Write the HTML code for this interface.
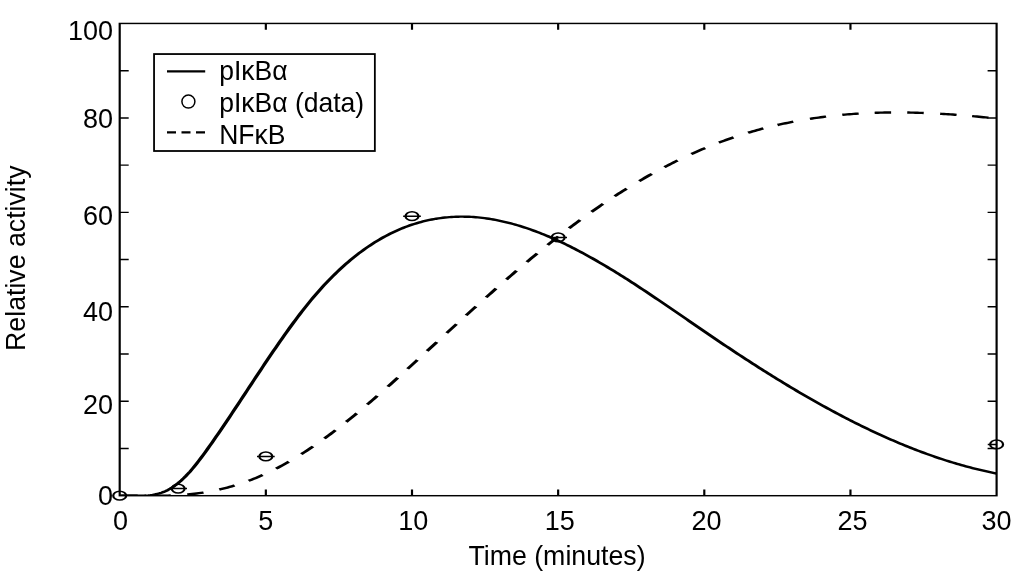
<!DOCTYPE html>
<html><head><meta charset="utf-8"><style>
html,body{margin:0;padding:0;background:#fff;}
body{width:1024px;height:586px;overflow:hidden;}
svg{display:block;will-change:transform;}
text{font-family:"Liberation Sans",sans-serif;fill:#000;}
</style></head><body>
<svg width="1024" height="586" viewBox="0 0 1024 586">
<rect x="0" y="0" width="1024" height="586" fill="#fff"/>
<g transform="translate(119.7,0) scale(1.5,1)" fill="none" stroke="#000">
<defs><clipPath id="ax"><rect x="0" y="23.45" width="584.60" height="472.25"/></clipPath></defs>
<g clip-path="url(#ax)">
<path d="M0.00,495.70 L1.47,495.70 L2.93,495.70 L4.40,495.70 L5.86,495.70 L7.33,495.70 L8.79,495.70 L10.26,495.70 L11.72,495.70 L13.19,495.70 L14.65,495.70 L16.12,495.70 L17.58,495.70 L19.05,495.70 L20.51,495.70 L21.98,495.70 L23.44,495.70 L24.91,495.70 L26.37,495.70 L27.84,495.70 L29.30,495.70 L30.77,495.70 L32.23,495.65 L33.70,495.57 L35.16,495.48 L36.63,495.37 L38.09,495.26 L39.56,495.12 L41.02,494.98 L42.49,494.81 L43.95,494.63 L45.42,494.44 L46.89,494.23 L48.35,494.00 L49.82,493.75 L51.28,493.48 L52.75,493.19 L54.21,492.88 L55.68,492.55 L57.14,492.21 L58.61,491.84 L60.07,491.44 L61.54,491.03 L63.00,490.59 L64.47,490.14 L65.93,489.65 L67.40,489.15 L68.86,488.63 L70.33,488.08 L71.79,487.51 L73.26,486.91 L74.72,486.30 L76.19,485.66 L77.65,484.99 L79.12,484.30 L80.58,483.59 L82.05,482.86 L83.51,482.10 L84.98,481.31 L86.44,480.50 L87.91,479.67 L89.37,478.81 L90.84,477.92 L92.31,477.01 L93.77,476.08 L95.24,475.12 L96.70,474.13 L98.17,473.12 L99.63,472.08 L101.10,471.02 L102.56,469.93 L104.03,468.82 L105.49,467.69 L106.96,466.53 L108.42,465.34 L109.89,464.13 L111.35,462.90 L112.82,461.65 L114.28,460.38 L115.75,459.08 L117.21,457.76 L118.68,456.42 L120.14,455.05 L121.61,453.67 L123.07,452.26 L124.54,450.84 L126.00,449.39 L127.47,447.92 L128.93,446.44 L130.40,444.93 L131.86,443.41 L133.33,441.86 L134.79,440.30 L136.26,438.72 L137.73,437.12 L139.19,435.51 L140.66,433.87 L142.12,432.22 L143.59,430.56 L145.05,428.88 L146.52,427.18 L147.98,425.47 L149.45,423.74 L150.91,422.00 L152.38,420.25 L153.84,418.48 L155.31,416.69 L156.77,414.90 L158.24,413.09 L159.70,411.27 L161.17,409.44 L162.63,407.60 L164.10,405.74 L165.56,403.88 L167.03,402.00 L168.49,400.11 L169.96,398.22 L171.42,396.31 L172.89,394.40 L174.35,392.48 L175.82,390.55 L177.28,388.61 L178.75,386.66 L180.22,384.71 L181.68,382.75 L183.15,380.79 L184.61,378.82 L186.08,376.84 L187.54,374.86 L189.01,372.87 L190.47,370.88 L191.94,368.88 L193.40,366.88 L194.87,364.88 L196.33,362.87 L197.80,360.86 L199.26,358.85 L200.73,356.84 L202.19,354.82 L203.66,352.80 L205.12,350.79 L206.59,348.77 L208.05,346.75 L209.52,344.73 L210.98,342.72 L212.45,340.70 L213.91,338.69 L215.38,336.67 L216.84,334.66 L218.31,332.65 L219.77,330.63 L221.24,328.63 L222.70,326.62 L224.17,324.61 L225.64,322.61 L227.10,320.61 L228.57,318.61 L230.03,316.62 L231.50,314.62 L232.96,312.63 L234.43,310.65 L235.89,308.66 L237.36,306.68 L238.82,304.71 L240.29,302.74 L241.75,300.77 L243.22,298.81 L244.68,296.85 L246.15,294.89 L247.61,292.94 L249.08,291.00 L250.54,289.06 L252.01,287.12 L253.47,285.19 L254.94,283.27 L256.40,281.35 L257.87,279.44 L259.33,277.54 L260.80,275.64 L262.26,273.74 L263.73,271.86 L265.19,269.98 L266.66,268.11 L268.12,266.24 L269.59,264.38 L271.06,262.53 L272.52,260.69 L273.99,258.86 L275.45,257.03 L276.92,255.21 L278.38,253.40 L279.85,251.60 L281.31,249.81 L282.78,248.02 L284.24,246.25 L285.71,244.48 L287.17,242.73 L288.64,240.98 L290.10,239.24 L291.57,237.52 L293.03,235.80 L294.50,234.09 L295.96,232.40 L297.43,230.71 L298.89,229.04 L300.36,227.38 L301.82,225.72 L303.29,224.08 L304.75,222.45 L306.22,220.84 L307.68,219.23 L309.15,217.63 L310.61,216.05 L312.08,214.48 L313.54,212.92 L315.01,211.37 L316.48,209.83 L317.94,208.31 L319.41,206.80 L320.87,205.29 L322.34,203.81 L323.80,202.33 L325.27,200.86 L326.73,199.41 L328.20,197.96 L329.66,196.53 L331.13,195.12 L332.59,193.71 L334.06,192.31 L335.52,190.93 L336.99,189.56 L338.45,188.20 L339.92,186.86 L341.38,185.52 L342.85,184.20 L344.31,182.89 L345.78,181.59 L347.24,180.31 L348.71,179.03 L350.17,177.77 L351.64,176.52 L353.10,175.29 L354.57,174.06 L356.03,172.85 L357.50,171.65 L358.96,170.46 L360.43,169.29 L361.90,168.12 L363.36,166.97 L364.83,165.84 L366.29,164.71 L367.76,163.60 L369.22,162.50 L370.69,161.41 L372.15,160.33 L373.62,159.27 L375.08,158.22 L376.55,157.19 L378.01,156.16 L379.48,155.15 L380.94,154.15 L382.41,153.16 L383.87,152.19 L385.34,151.23 L386.80,150.28 L388.27,149.35 L389.73,148.43 L391.20,147.52 L392.66,146.62 L394.13,145.74 L395.59,144.87 L397.06,144.01 L398.52,143.16 L399.99,142.33 L401.45,141.51 L402.92,140.71 L404.38,139.92 L405.85,139.14 L407.32,138.37 L408.78,137.62 L410.25,136.88 L411.71,136.15 L413.18,135.44 L414.64,134.74 L416.11,134.05 L417.57,133.37 L419.04,132.71 L420.50,132.05 L421.97,131.41 L423.43,130.79 L424.90,130.17 L426.36,129.57 L427.83,128.98 L429.29,128.40 L430.76,127.83 L432.22,127.27 L433.69,126.73 L435.15,126.20 L436.62,125.68 L438.08,125.17 L439.55,124.67 L441.01,124.18 L442.48,123.71 L443.94,123.24 L445.41,122.79 L446.87,122.34 L448.34,121.91 L449.81,121.49 L451.27,121.08 L452.74,120.68 L454.20,120.29 L455.67,119.91 L457.13,119.55 L458.60,119.19 L460.06,118.84 L461.53,118.50 L462.99,118.17 L464.46,117.86 L465.92,117.55 L467.39,117.25 L468.85,116.97 L470.32,116.69 L471.78,116.42 L473.25,116.16 L474.71,115.91 L476.18,115.67 L477.64,115.44 L479.11,115.22 L480.57,115.01 L482.04,114.80 L483.50,114.61 L484.97,114.43 L486.43,114.25 L487.90,114.08 L489.36,113.92 L490.83,113.77 L492.29,113.63 L493.76,113.50 L495.23,113.37 L496.69,113.26 L498.16,113.15 L499.62,113.05 L501.09,112.96 L502.55,112.87 L504.02,112.80 L505.48,112.73 L506.95,112.67 L508.41,112.62 L509.88,112.57 L511.34,112.54 L512.81,112.51 L514.27,112.48 L515.74,112.47 L517.20,112.46 L518.67,112.46 L520.13,112.47 L521.60,112.48 L523.06,112.50 L524.53,112.53 L525.99,112.56 L527.46,112.60 L528.92,112.65 L530.39,112.70 L531.85,112.76 L533.32,112.83 L534.78,112.90 L536.25,112.98 L537.71,113.07 L539.18,113.16 L540.65,113.26 L542.11,113.36 L543.58,113.47 L545.04,113.58 L546.51,113.70 L547.97,113.83 L549.44,113.96 L550.90,114.10 L552.37,114.24 L553.83,114.39 L555.30,114.54 L556.76,114.70 L558.23,114.86 L559.69,115.03 L561.16,115.20 L562.62,115.38 L564.09,115.57 L565.55,115.75 L567.02,115.95 L568.48,116.14 L569.95,116.34 L571.41,116.55 L572.88,116.76 L574.34,116.97 L575.81,117.19 L577.27,117.41 L578.74,117.64 L580.20,117.87 L581.67,118.10 L583.13,118.34 L584.60,118.58" stroke-width="2.4" stroke-dasharray="0.00 1.00 11.00 11.05 11.00 11.05 11.00 10.95 11.00 10.42 11.00 10.98 11.00 11.19 11.00 11.07 11.00 11.04 11.00 11.25 11.00 11.60 11.00 11.13 11.00 11.10 11.00 11.21 11.00 10.87 11.00 11.44 11.00 11.43 11.00 11.10 11.00 11.02 11.00 11.02 11.00 11.22 11.00 10.88 11.00 11.35 11.00 10.83 11.00 11.17 11.00 10.71 11.00 10.80 11.00 10.10 11.00 11.47 11.00 10.95 11.00 10.66 11.00 10.74 11.00 10.99 11.00 10.43 11.00 55.50" stroke-linejoin="round"/>
<path d="M0.00,495.70 L1.47,495.70 L2.93,495.70 L4.40,495.70 L5.86,495.70 L7.33,495.70 L8.79,495.70 L10.26,495.70 L11.72,495.70 L13.19,495.70 L14.65,495.70 L16.12,495.67 L17.58,495.57 L19.05,495.41 L20.51,495.18 L21.98,494.88 L23.44,494.49 L24.91,494.01 L26.37,493.42 L27.84,492.73 L29.30,491.92 L30.77,490.98 L32.23,489.91 L33.70,488.69 L35.16,487.33 L36.63,485.82 L38.09,484.17 L39.56,482.38 L41.02,480.46 L42.49,478.41 L43.95,476.24 L45.42,473.94 L46.89,471.53 L48.35,469.01 L49.82,466.38 L51.28,463.64 L52.75,460.82 L54.21,457.91 L55.68,454.95 L57.14,451.92 L58.61,448.86 L60.07,445.77 L61.54,442.66 L63.00,439.51 L64.47,436.34 L65.93,433.15 L67.40,429.94 L68.86,426.71 L70.33,423.47 L71.79,420.20 L73.26,416.92 L74.72,413.63 L76.19,410.33 L77.65,407.02 L79.12,403.70 L80.58,400.38 L82.05,397.05 L83.51,393.71 L84.98,390.38 L86.44,387.04 L87.91,383.71 L89.37,380.38 L90.84,377.06 L92.31,373.74 L93.77,370.43 L95.24,367.13 L96.70,363.84 L98.17,360.57 L99.63,357.31 L101.10,354.06 L102.56,350.84 L104.03,347.63 L105.49,344.44 L106.96,341.28 L108.42,338.14 L109.89,335.03 L111.35,331.95 L112.82,328.89 L114.28,325.86 L115.75,322.87 L117.21,319.91 L118.68,316.99 L120.14,314.10 L121.61,311.26 L123.07,308.45 L124.54,305.69 L126.00,302.97 L127.47,300.29 L128.93,297.66 L130.40,295.08 L131.86,292.55 L133.33,290.06 L134.79,287.62 L136.26,285.23 L137.73,282.88 L139.19,280.58 L140.66,278.33 L142.12,276.12 L143.59,273.96 L145.05,271.84 L146.52,269.77 L147.98,267.74 L149.45,265.76 L150.91,263.82 L152.38,261.92 L153.84,260.07 L155.31,258.26 L156.77,256.49 L158.24,254.76 L159.70,253.08 L161.17,251.44 L162.63,249.84 L164.10,248.29 L165.56,246.77 L167.03,245.30 L168.49,243.86 L169.96,242.47 L171.42,241.11 L172.89,239.80 L174.35,238.53 L175.82,237.29 L177.28,236.10 L178.75,234.94 L180.22,233.82 L181.68,232.74 L183.15,231.70 L184.61,230.69 L186.08,229.72 L187.54,228.79 L189.01,227.90 L190.47,227.04 L191.94,226.22 L193.40,225.43 L194.87,224.68 L196.33,223.97 L197.80,223.29 L199.26,222.65 L200.73,222.04 L202.19,221.46 L203.66,220.92 L205.12,220.41 L206.59,219.94 L208.05,219.50 L209.52,219.09 L210.98,218.71 L212.45,218.37 L213.91,218.06 L215.38,217.78 L216.84,217.53 L218.31,217.32 L219.77,217.13 L221.24,216.98 L222.70,216.85 L224.17,216.76 L225.64,216.70 L227.10,216.66 L228.57,216.66 L230.03,216.68 L231.50,216.73 L232.96,216.81 L234.43,216.92 L235.89,217.06 L237.36,217.23 L238.82,217.42 L240.29,217.64 L241.75,217.88 L243.22,218.16 L244.68,218.46 L246.15,218.78 L247.61,219.13 L249.08,219.51 L250.54,219.91 L252.01,220.34 L253.47,220.79 L254.94,221.27 L256.40,221.77 L257.87,222.29 L259.33,222.84 L260.80,223.41 L262.26,224.00 L263.73,224.62 L265.19,225.25 L266.66,225.92 L268.12,226.60 L269.59,227.30 L271.06,228.03 L272.52,228.77 L273.99,229.54 L275.45,230.33 L276.92,231.14 L278.38,231.96 L279.85,232.81 L281.31,233.68 L282.78,234.56 L284.24,235.47 L285.71,236.39 L287.17,237.33 L288.64,238.29 L290.10,239.27 L291.57,240.26 L293.03,241.27 L294.50,242.30 L295.96,243.34 L297.43,244.40 L298.89,245.48 L300.36,246.57 L301.82,247.68 L303.29,248.80 L304.75,249.94 L306.22,251.09 L307.68,252.25 L309.15,253.43 L310.61,254.62 L312.08,255.83 L313.54,257.05 L315.01,258.28 L316.48,259.53 L317.94,260.78 L319.41,262.05 L320.87,263.33 L322.34,264.62 L323.80,265.92 L325.27,267.24 L326.73,268.56 L328.20,269.90 L329.66,271.24 L331.13,272.59 L332.59,273.96 L334.06,275.33 L335.52,276.71 L336.99,278.10 L338.45,279.49 L339.92,280.90 L341.38,282.31 L342.85,283.73 L344.31,285.16 L345.78,286.59 L347.24,288.03 L348.71,289.48 L350.17,290.93 L351.64,292.39 L353.10,293.86 L354.57,295.33 L356.03,296.80 L357.50,298.28 L358.96,299.76 L360.43,301.25 L361.90,302.74 L363.36,304.23 L364.83,305.73 L366.29,307.22 L367.76,308.73 L369.22,310.23 L370.69,311.74 L372.15,313.24 L373.62,314.75 L375.08,316.26 L376.55,317.77 L378.01,319.29 L379.48,320.80 L380.94,322.31 L382.41,323.82 L383.87,325.33 L385.34,326.84 L386.80,328.35 L388.27,329.86 L389.73,331.36 L391.20,332.86 L392.66,334.36 L394.13,335.86 L395.59,337.36 L397.06,338.85 L398.52,340.34 L399.99,341.82 L401.45,343.31 L402.92,344.78 L404.38,346.25 L405.85,347.72 L407.32,349.19 L408.78,350.65 L410.25,352.10 L411.71,353.55 L413.18,355.00 L414.64,356.44 L416.11,357.87 L417.57,359.31 L419.04,360.73 L420.50,362.15 L421.97,363.57 L423.43,364.98 L424.90,366.39 L426.36,367.79 L427.83,369.18 L429.29,370.57 L430.76,371.96 L432.22,373.34 L433.69,374.71 L435.15,376.08 L436.62,377.44 L438.08,378.80 L439.55,380.15 L441.01,381.49 L442.48,382.83 L443.94,384.16 L445.41,385.49 L446.87,386.81 L448.34,388.12 L449.81,389.43 L451.27,390.73 L452.74,392.03 L454.20,393.31 L455.67,394.60 L457.13,395.87 L458.60,397.14 L460.06,398.40 L461.53,399.65 L462.99,400.90 L464.46,402.14 L465.92,403.37 L467.39,404.60 L468.85,405.82 L470.32,407.03 L471.78,408.24 L473.25,409.43 L474.71,410.62 L476.18,411.80 L477.64,412.98 L479.11,414.14 L480.57,415.30 L482.04,416.45 L483.50,417.60 L484.97,418.73 L486.43,419.86 L487.90,420.98 L489.36,422.09 L490.83,423.19 L492.29,424.28 L493.76,425.37 L495.23,426.45 L496.69,427.52 L498.16,428.58 L499.62,429.63 L501.09,430.67 L502.55,431.70 L504.02,432.73 L505.48,433.75 L506.95,434.75 L508.41,435.75 L509.88,436.74 L511.34,437.72 L512.81,438.69 L514.27,439.65 L515.74,440.60 L517.20,441.55 L518.67,442.48 L520.13,443.40 L521.60,444.32 L523.06,445.22 L524.53,446.12 L525.99,447.00 L527.46,447.87 L528.92,448.74 L530.39,449.59 L531.85,450.44 L533.32,451.27 L534.78,452.10 L536.25,452.91 L537.71,453.71 L539.18,454.51 L540.65,455.29 L542.11,456.06 L543.58,456.82 L545.04,457.57 L546.51,458.31 L547.97,459.04 L549.44,459.76 L550.90,460.46 L552.37,461.16 L553.83,461.84 L555.30,462.51 L556.76,463.18 L558.23,463.83 L559.69,464.47 L561.16,465.09 L562.62,465.71 L564.09,466.31 L565.55,466.91 L567.02,467.49 L568.48,468.06 L569.95,468.61 L571.41,469.16 L572.88,469.69 L574.34,470.21 L575.81,470.72 L577.27,471.22 L578.74,471.70 L580.20,472.17 L581.67,472.63 L583.13,473.08 L584.60,473.52" stroke-width="2.4" stroke-linejoin="round"/>
<path stroke-width="1.5" d="M-5.90,495.70H5.90M33.07,488.62H44.87M91.53,456.41H103.33M188.97,216.13H200.77M286.40,237.38H298.20M578.70,444.41H590.50"/>
</g>
<g stroke-width="1.5"><ellipse cx="0.00" cy="495.70" rx="4.3" ry="4.4"/><ellipse cx="38.97" cy="488.62" rx="4.3" ry="4.4"/><ellipse cx="97.43" cy="456.41" rx="4.3" ry="4.4"/><ellipse cx="194.87" cy="216.13" rx="4.3" ry="4.4"/><ellipse cx="292.30" cy="237.38" rx="4.3" ry="4.4"/><ellipse cx="584.60" cy="444.41" rx="4.3" ry="4.4"/></g>
<path stroke-width="1.45" d="M97.43,495.7V489.50M97.43,23.45V29.65M194.87,495.7V489.50M194.87,23.45V29.65M292.30,495.7V489.50M292.30,23.45V29.65M389.73,495.7V489.50M389.73,23.45V29.65M487.17,495.7V489.50M487.17,23.45V29.65M0,448.47H6.00M584.60,448.47H578.60M0,401.25H6.00M584.60,401.25H578.60M0,354.02H6.00M584.60,354.02H578.60M0,306.80H6.00M584.60,306.80H578.60M0,259.57H6.00M584.60,259.57H578.60M0,212.35H6.00M584.60,212.35H578.60M0,165.12H6.00M584.60,165.12H578.60M0,117.90H6.00M584.60,117.90H578.60M0,70.67H6.00M584.60,70.67H578.60"/>
<rect x="0" y="23.45" width="584.60" height="472.25" stroke-width="1.45"/>
</g>
<g font-size="27px">
<text x="120.40" y="530" text-anchor="middle">0</text><text x="265.85" y="530" text-anchor="middle">5</text><text x="413.30" y="530" text-anchor="middle">10</text><text x="559.65" y="530" text-anchor="middle">15</text><text x="706.50" y="530" text-anchor="middle">20</text><text x="852.45" y="530" text-anchor="middle">25</text><text x="996.60" y="530" text-anchor="middle">30</text>
<text x="113" y="505.20" text-anchor="end">0</text><text x="113" y="413.65" text-anchor="end">20</text><text x="113" y="320.80" text-anchor="end">40</text><text x="113" y="224.65" text-anchor="end">60</text><text x="113" y="127.90" text-anchor="end">80</text><text x="113" y="39.55" text-anchor="end">100</text>
<text transform="translate(557,565) scale(0.99,1)" text-anchor="middle">Time (minutes)</text>
<text transform="translate(25.1,258.2) rotate(-90) scale(0.989,1)" text-anchor="middle">Relative activity</text>
</g>
<rect x="154.05" y="54.05" width="220.8" height="96.95" fill="#fff" stroke="#000" stroke-width="1.8"/>
<path d="M167,71.45H205.2" stroke="#000" stroke-width="2.3"/>
<circle cx="188.4" cy="101.6" r="6.5" fill="none" stroke="#000" stroke-width="1.5"/>
<path d="M167,132.4H205.2" stroke="#000" stroke-width="2.3" stroke-dasharray="9 5.5"/>
<g font-size="27px" transform="translate(219.2,0) scale(0.982,1)">
<text x="0" y="80">pIκBα</text>
<text x="0" y="112">pIκBα (data)</text>
<text x="0" y="144">NFκB</text>
</g>
</svg>
</body></html>
